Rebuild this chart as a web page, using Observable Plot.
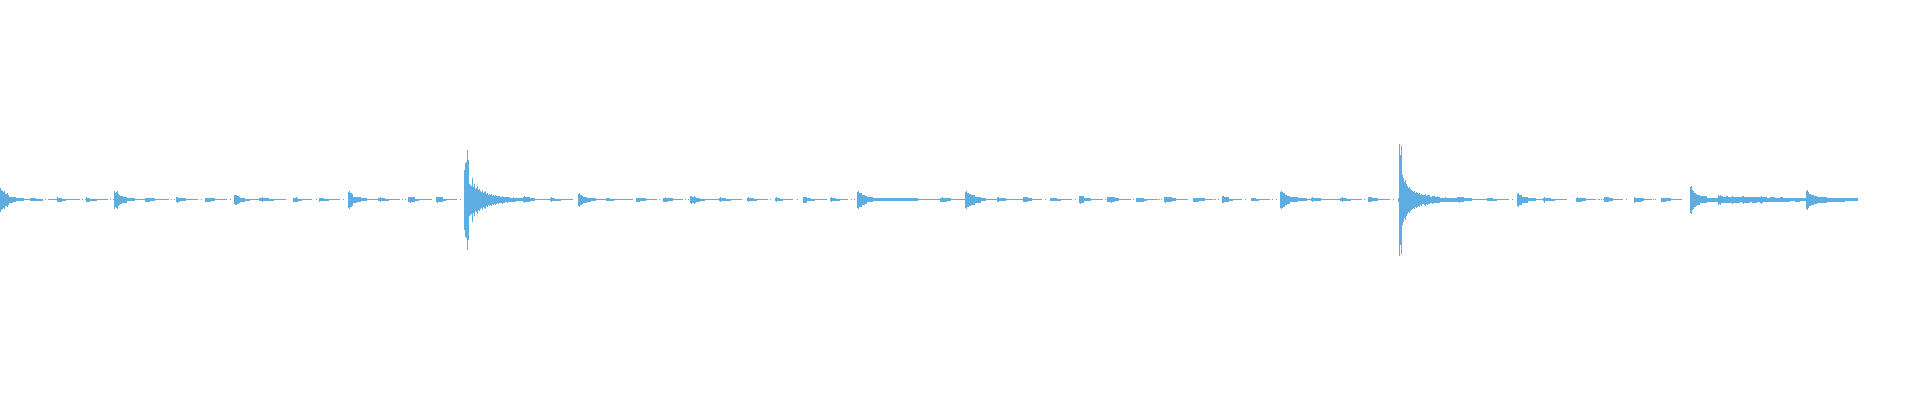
<!DOCTYPE html>
<html><head><meta charset="utf-8">
<script src="https://cdn.jsdelivr.net/npm/d3@7"></script>
<script src="https://cdn.jsdelivr.net/npm/@observablehq/plot@0.6"></script>
<style>html,body{margin:0;padding:0;background:#fff;overflow:hidden}</style>
</head><body><div id="chart"></div>
<script>
// Waveform envelope: [sample column where the level starts, half amplitude]; 0 = silence
const part1 = [[0,12],[1,10],[2,9],[3,8],[4,9],[5,6],[7,7],[8,5],[9,3],[13,2.5],[16,1.5],[24,0.5],[30,1.5],[36,1],[43,0],[45,0.5],[46,0],[48,0.5],
[57,2.5],[58,2],[62,1],[66,0.5],[80,0],[82,0.5],[83,0],[85,0.5],[86,2.5],[87,2],[90,1],[97,0.5],[108,0],[110,0.5],[111,0],[113,0.5],
[114,9],[115,7],[116,8],[117,9],[118,6],[119,5],[120,4],[122,3.5],[123,3],[127,1.5],[135,0.5],[145,2],[150,1.2],[155,0.5],[169,0],[171,0.5],[172,0],[174,0.5],[175,0],
[176,2.5],[177,3],[178,2],[180,1.2],[186,0.5],[198,0],[201,0.5],[202,0],[205,2],[211,1.2],[215,0.5],[227,0],[230,0.5],[231,0],
[234,4.5],[235,5],[237,4],[239,3],[240,2],[245,1],[250,0.5],[259,1.8],[262,2.5],[263,1.8],[269,1],[274,0.5],[286,0],[293,2],[296,2.5],[297,2],[298,1],[302,0.5],[312,0],[316,0.5],[317,0],[319,2]];
const part2 = [[320,1.5],[324,1],[329,0.5],[340,0],[343,0.5],[344,0],[348,8],[349,9],[350,7],[352,6],[353,3],[357,2.2],[361,1.2],[367,0.5],[378,1.8],[380,2.5],[381,1.8],[385,1],[389,0.5],[400,0],[402,0.5],[403,0],[405,0.5],[406,0],[408,2.2],[410,3],[411,2.2],[415,1],[419,0.5],[432,0],[436,2.2],[437,3],[438,2.2],[443,1],[446,0.5],[457,0],[460,0.5],[461,0],
[464,30],[465,37],[466,38],[467,50],[468,40],[469,16],[470,15],[471,14],[472,22],[473,13],[474,16],[475,11],[476,12],[477,14],[478,10],[479,11],[480,9],[481,8],[482,10],[483,7],[484,8],[485,9],[486,6],[487,7],[488,5],[489,6],[490,5],[491,6],[492,4],[493,5],[494,4],[495,5],[496,4],[497,3.5],[498,4],[499,3.5],[500,3],[502,4],[503,3],[505,2.5],[507,3],[508,2.5],[510,2],[513,2.5],[514,2],[516,1.5],[523,2.5],[524,3.5],[525,2.5],[530,1.2],[535,0.5],[550,1.5],[551,2.5],[552,1.5],[555,1],[561,0.5],[573,0],[578,6],[579,7],[580,5],[582,4],[583,3],[587,2],[591,1.5],[596,0.5],[606,1.8],[610,1],[614,0.5],[633,0],[636,2]];
const part3 = [[640,1.5],[646,0.5],[657,0],[659,0.5],[660,0],[663,2],[665,2.5],[666,2],[668,1.2],[673,0.5],[683,0],[685,0.5],[686,0],[688,0.5],[689,0],[690,3.5],[691,4],[692,3],[694,4],[695,3],[696,2],[700,1],[705,0.5],[719,1.8],[720,2.5],[721,1.8],[726,1],[731,0.5],[742,0],[747,1.8],[748,2.5],[749,1.8],[754,1],[757,0.5],[768,0],[770,0.5],[771,0],[775,1.8],[776,2.5],[777,1.8],[780,1],[783,0.5],[793,0],[797,0.5],[798,0],[803,3],[807,1.5],[811,1],[815,0.5],[827,0],[830,1.8],[831,2.5],[832,1.8],[836,1],[840,0.5],[848,0],[851,0.5],[852,0],[854,0.5],[855,0],
[857,8],[858,9],[859,7],[862,5],[865,4],[867,2.5],[873,1.5],[895,1.2],[918,0.5],[940,2],[942,2.5],[943,2],[947,1.2],[951,0.5]];
const part4 = [[965,8],[966,9],[967,7],[969,6],[971,5],[975,3],[981,1.5],[986,0.5],[997,2.5],[999,1.2],[1006,0.5],[1023,2.2],[1028,1.2],[1032,0.5],[1042,0],[1045,0.5],[1046,0],[1050,1.8],[1057,1],[1061,0.5],[1072,0],[1075,0.5],[1076,0],[1079,3.3],[1080,4],[1081,3.3],[1084,1.5],[1091,0.5],[1103,0],[1105,0.5],[1106,0],[1107,2.2],[1111,3],[1112,2.2],[1115,1.2],[1119,0.5],[1131,0],[1133,0.5],[1134,0],[1136,2],[1144,1],[1147,0.5],[1158,0],[1159,0.5],[1160,0],[1161,0.5],[1162,0],[1164,2.3],[1165,3],[1166,2.3],[1172,1.2],[1176,0.5],[1188,0],[1193,2],[1199,1.2],[1205,0.5],[1213,0],[1214,0.5],[1216,0],[1218,0.5],[1219,0],[1222,3.5],[1224,2.5],[1229,1],[1233,0.5],[1242,0],[1245,0.5],[1246,0],[1251,1.8],[1256,1],[1259,0.5],[1270,0],[1272,0.5],[1273,0],[1276,0.5],[1277,0]];
const part5 = [[1280,8],[1281,9],[1282,8],[1283,7],[1285,5],[1287,4],[1290,2.5],[1298,1.3],[1307,0.5],[1311,1.8],[1312,2.5],[1313,1.8],[1316,1.2],[1321,0.5],[1340,1.8],[1342,2.5],[1343,1.8],[1347,1],[1351,0.5],[1362,0],[1364,0.5],[1365,0],[1368,2.5],[1372,1.2],[1378,0.5],[1390,0],[1393,0.5],[1394,0],[1398,2],
[1399,56],[1400,45],[1401,54],[1402,25],[1403,22],[1404,18],[1405,20],[1406,16],[1407,14],[1408,12],[1409,13],[1410,11],[1411,10],[1412,9],[1413,8],[1414,9],[1415,7],[1416,8],[1417,7],[1418,6],[1419,7],[1420,5],[1421,6],[1422,4.5],[1424,5],[1425,6],[1426,4],[1427,5],[1428,4.5],[1430,3],[1432,4],[1433,3.5],[1435,3],[1437,3.5],[1438,3],[1440,2],[1445,2.5],[1446,2],[1457,2.5],[1459,3],[1460,2.5],[1464,1.5],[1472,0.8],[1487,1.8],[1493,1],[1497,0.5],[1509,0],[1512,0.5],[1513,0],[1517,6],[1518,7],[1519,5],[1522,3],[1528,1.5],[1536,0.5],[1543,1.8],[1544,3],[1545,1.8],[1551,1],[1555,0.5],[1567,0],[1576,2],[1577,2.5],[1578,2],[1582,1.2],[1586,0.5],[1596,0],[1598,0.5]];
const part6 = [[1600,0],[1601,0.5],[1602,0],[1603,0.5],[1604,2.2],[1609,1.2],[1613,0.5],[1623,0],[1626,0.5],[1627,0],[1634,3],[1635,2],[1642,1.2],[1644,0.5],[1652,0],[1653,0.5],[1654,0],[1655,0.5],[1656,0],[1661,2],[1666,1.2],[1671,0.5],[1682,0],
[1690,13],[1691,14],[1692,10],[1693,9],[1694,7],[1696,6],[1697,5],[1700,3.5],[1707,2],[1718,5],[1719,4],[1720,5],[1721,3.5],[1723,3],[1726,3.5],[1728,3],[1732,4],[1733,3],[1734,3],[1740,2.5],[1742,3.5],[1743,4],[1744,3],[1750,2.5],[1752,3],[1757,2.5],[1760,3],[1761,4],[1762,3],[1763,2.5],[1767,2],[1770,2.5],[1775,2],[1780,2.5],[1783,2],[1790,1.8],[1795,2],[1800,1.8],[1806,9],[1807,10],[1808,8],[1809,6],[1811,5],[1814,4],[1817,3],[1827,2],[1845,1.5],[1858,0]];

const breaks = [...part1, ...part2, ...part3, ...part4, ...part5, ...part6];
const rows = [];
for (let i = 0; i < breaks.length - 1; i++) {
  const [x, h] = breaks[i];
  if (h > 0) rows.push({x1: x, x2: breaks[i + 1][0], h});
}
const chart = Plot.plot({
  width: 1920, height: 400, margin: 0,
  x: {domain: [0, 1920], axis: null},
  y: {domain: [-200.5, 199.5], axis: null},
  marks: [
    Plot.rect(rows, {x1: "x1", x2: "x2", y1: d => -d.h, y2: d => d.h, fill: "#5dade2", inset: 0, shapeRendering: "crispEdges"})
  ]
});
document.getElementById("chart").appendChild(chart);
</script></body></html>
